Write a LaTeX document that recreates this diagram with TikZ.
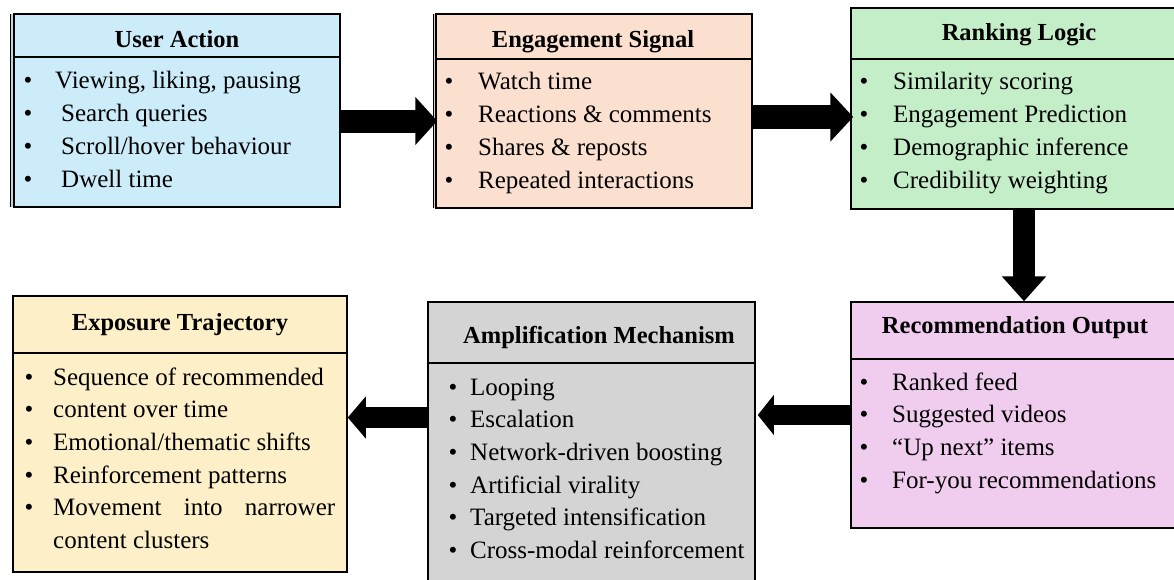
\documentclass[tikz,border=0pt]{standalone}
\usepackage{fontspec}
\setmainfont{Liberation Serif}
\usetikzlibrary{fit,arrows.meta}
\definecolor{cUA}{RGB}{204,236,250}
\definecolor{cES}{RGB}{251,224,208}
\definecolor{cRL}{RGB}{196,238,200}
\definecolor{cRO}{RGB}{240,204,238}
\definecolor{cAM}{RGB}{212,212,212}
\definecolor{cET}{RGB}{253,240,200}
\begin{document}
\begin{tikzpicture}[x=1pt,y=-1pt,
  box/.style={draw=black,line width=1.5pt,inner sep=0pt},
  sep/.style={draw=black,line width=1.5pt},
  ttl/.style={font=\fontsize{24.5}{28}\selectfont\bfseries,inner sep=0pt,anchor=base},
  itm/.style={font=\fontsize{25}{30}\selectfont,inner sep=0pt,anchor=base west},
  blt/.style={font=\fontsize{25}{30}\selectfont,inner sep=0pt,anchor=base},
  blk/.style={draw=black,line cap=butt}]
\useasboundingbox (0,0) rectangle (1174,579);
% ---- boxes
\fill[cUA!80!gray] (10,14) rectangle (14,207);
\draw[line width=1.2pt] (10.5,14) -- (10.5,207);
\node[box,fill=cUA,fit={(14,14)(340,207)}] (ua) {};
\fill[cES!80!gray] (433,14) rectangle (436,208);
\draw[line width=1.2pt] (433.5,14) -- (433.5,208);
\node[box,fill=cES,fit={(436,14)(752,208)}] (es) {};
\node[box,fill=cRL,fit={(851,8)(1176,209)}] (rl) {};
\node[box,fill=cRO,fit={(851,302)(1176,528)}] (ro) {};
\node[box,fill=cAM,fit={(428,302)(755,583)}] (am) {};
\node[box,fill=cET,fit={(13,296)(347,572)}] (et) {};
% ---- header separators
\draw[sep] (ua.west |- 0,57) -- (ua.east |- 0,57);
\draw[sep] (es.west |- 0,59) -- (es.east |- 0,59);
\draw[sep] (rl.west |- 0,59) -- (rl.east |- 0,59);
\draw[sep] (ro.west |- 0,359) -- (ro.east |- 0,359);
\draw[sep] (am.west |- 0,363) -- (am.east |- 0,363);
\draw[sep] (et.west |- 0,353) -- (et.east |- 0,353);
% ---- titles
\node[ttl] (ua-t) at (177,47) {User Action};
\node[ttl] (es-t) at (593,47) {Engagement Signal};
\node[ttl] (rl-t) at (1019,40) {Ranking Logic};
\node[ttl] (ro-t) at (1015,333) {Recommendation Output};
\node[ttl] (am-t) at (599,343) {Amplification Mechanism};
\node[ttl] (et-t) at (180,330) {Exposure Trajectory};
% ---- items
\foreach \x/\t [count=\i from 0] in {55/{Viewing, liking, pausing},61/{Search queries},61/{Scroll/hover behaviour},61/{Dwell time}}{
  \node[blt] (ua-b\i) at (28,{88.5+33*\i}) {•};
  \node[itm] (ua-i\i) at (\x,{88.5+33*\i}) {\t};
}
\foreach \t [count=\i from 0] in {{Watch time},{Reactions \& comments},{Shares \& reposts},{Repeated interactions}}{
  \node[blt] (es-b\i) at (449,{89.5+33*\i}) {•};
  \node[itm] (es-i\i) at (478,{89.5+33*\i}) {\t};
}
\foreach \t [count=\i from 0] in {{Similarity scoring},{Engagement Prediction},{Demographic inference},{Credibility weighting}}{
  \node[blt] (rl-b\i) at (864,{89+33*\i}) {•};
  \node[itm] (rl-i\i) at (893,{89+33*\i}) {\t};
}
\foreach \t [count=\i from 0] in {{Ranked feed},{Suggested videos},{“Up next” items},{For-you recommendations}}{
  \node[blt] (ro-b\i) at (864,{390+32.8*\i}) {•};
  \node[itm] (ro-i\i) at (892,{390+32.8*\i}) {\t};
}
\foreach \t [count=\i from 0] in {{Looping},{Escalation},{Network-driven boosting},{Artificial virality},{Targeted intensification},{Cross-modal reinforcement}}{
  \node[blt] (am-b\i) at (453,{395+32.7*\i}) {•};
  \node[itm] (am-i\i) at (470,{395+32.7*\i}) {\t};
}
\foreach \t [count=\i from 0] in {{Sequence of recommended},{content over time},{Emotional/thematic shifts},{Reinforcement patterns},{\makebox[282pt][s]{Movement into narrower}}}{
  \node[blt] (et-b\i) at (29,{385+32.7*\i}) {•};
  \node[itm] (et-i\i) at (53,{385+32.7*\i}) {\t};
}
\node[itm] (et-i5) at (53,548.5) {content clusters};
% ---- block arrows
\draw[blk,line width=23pt,-{Triangle[width=47pt,length=22pt]}] (ua.east |- 0,121) -- ([xshift=2pt]es.west |- 0,121);
\draw[blk,line width=24pt,-{Triangle[width=48pt,length=23pt]}] (es.east |- 0,117) -- ([xshift=3pt]rl.west |- 0,117);
\draw[blk,line width=22pt,-{Triangle[width=43pt,length=25pt]}] (rl.south -| 1024,0) -- (ro.north -| 1024,0);
\draw[blk,line width=20pt,-{Triangle[width=39pt,length=16pt]}] (ro.west |- 0,415) -- ([xshift=2pt]am.east |- 0,415);
\draw[blk,line width=21pt,-{Triangle[width=41pt,length=18pt]}] (am.west |- 0,417.5) -- (et.east |- 0,417.5);
\end{tikzpicture}
\end{document}
